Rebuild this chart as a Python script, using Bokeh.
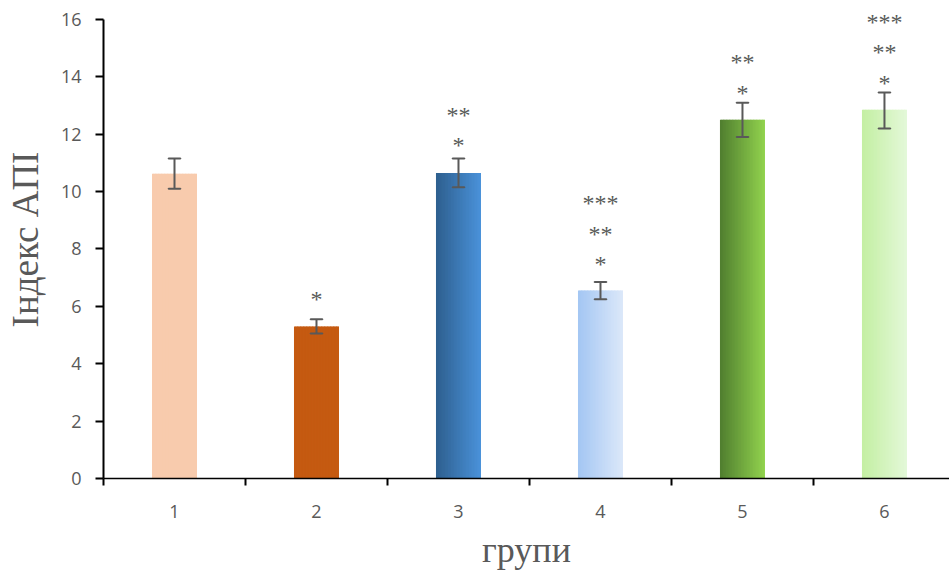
import numpy as np
from bokeh.plotting import figure
from bokeh.models import FixedTicker, ColumnDataSource, Range1d, LabelSet
from bokeh.embed import file_html
from bokeh.resources import INLINE

groups = ["1", "2", "3", "4", "5", "6"]
means = [10.62, 5.30, 10.65, 6.55, 12.50, 12.85]
err_low = [10.10, 5.05, 10.15, 6.25, 11.90, 12.20]
err_high = [11.15, 5.55, 11.15, 6.85, 13.10, 13.45]
star_levels = [0, 1, 2, 3, 2, 3]
star_base = [0.0, 6.31, 11.68, 7.53, 13.52, 13.87]   # height of the first "*" label
color_left = ["#F8CBAD", "#C55A11", "#2E5F8E", "#A3C6F3", "#507E30", "#C3EFA2"]
color_right = ["#F8CBAD", "#C55A11", "#4A92DA", "#DCE8F9", "#92D34D", "#E4F8D9"]
y_ticks = [0, 2, 4, 6, 8, 10, 12, 14, 16]

BAR_W = 0.317
N_SLICES = 30

def hex2rgb(h):
    h = h.lstrip("#")
    return np.array([int(h[i:i + 2], 16) for i in (0, 2, 4)], dtype=float)

def rgb2hex(c):
    return "#%02x%02x%02x" % tuple(int(round(v)) for v in c)

p = figure(width=949, height=576, output_backend="svg", toolbar_location=None,
           x_range=Range1d(0.5, 6.458), y_range=Range1d(0, 16.66),
           min_border_left=103, min_border_right=0, min_border_top=0, min_border_bottom=98)
p.outline_line_color = None
p.xgrid.grid_line_color = None
p.ygrid.grid_line_color = None

# gradient bars built from overlapping slices
lefts, rights, tops, cols = [], [], [], []
for i, m in enumerate(means):
    cx = i + 1
    x0 = cx - BAR_W / 2
    dw = BAR_W / N_SLICES
    c0, c1 = hex2rgb(color_left[i]), hex2rgb(color_right[i])
    for k in range(N_SLICES):
        t = (k + 0.5) / N_SLICES
        lefts.append(x0 + k * dw)
        rights.append(min(x0 + (k + 1.6) * dw, x0 + BAR_W))
        tops.append(m)
        cols.append(rgb2hex(c0 + (c1 - c0) * t))
src = ColumnDataSource(dict(l=lefts, r=rights, top=tops, c=cols))
p.quad(left="l", right="r", top="top", bottom=0, fill_color="c", line_color=None, source=src)

# error bars
xpos = list(range(1, len(groups) + 1))
esrc = ColumnDataSource(dict(x=xpos, lo=err_low, hi=err_high))
p.segment(x0="x", y0="lo", x1="x", y1="hi", line_color="#595959", line_width=2, source=esrc)
p.rect(x="x", y="lo", width=12, height=0.001, width_units="screen", height_units="screen",
       line_color="#595959", line_width=2, fill_color=None, source=esrc)
p.rect(x="x", y="hi", width=12, height=0.001, width_units="screen", height_units="screen",
       line_color="#595959", line_width=2, fill_color=None, source=esrc)

# significance stars
sx, sy, st, so = [], [], [], []
for i, lvl in enumerate(star_levels):
    for k in range(1, lvl + 1):
        sx.append(i + 1)
        sy.append(star_base[i])
        st.append("*" * k)
        so.append(-2 + 30.5 * (k - 1))
ssrc = ColumnDataSource(dict(x=sx, y=sy, t=st, o=so))
stars = LabelSet(x="x", y="y", text="t", y_offset="o", source=ssrc, text_align="center",
                 text_baseline="middle", text_font="DejaVu Sans", text_font_size="24px",
                 text_color="#595959")
p.add_layout(stars)

# axes
p.xaxis.ticker = FixedTicker(ticks=xpos, minor_ticks=[0.5 + i for i in range(7)])
p.xaxis.major_label_overrides = {i + 1: g for i, g in enumerate(groups)}
p.xaxis.major_tick_out = 0
p.xaxis.major_tick_in = 0
p.xaxis.minor_tick_out = 7
p.xaxis.minor_tick_in = 0
p.xaxis.minor_tick_line_color = "black"
p.xaxis.minor_tick_line_width = 2
p.xaxis.axis_line_color = "black"
p.xaxis.axis_line_width = 1.5
p.xaxis.major_label_standoff = 19
p.xaxis.major_label_text_font = "Open Sans"
p.xaxis.major_label_text_font_size = "18px"
p.xaxis.major_label_text_color = "#595959"
p.xaxis.axis_label = "групи"
p.xaxis.axis_label_text_font = "Liberation Serif"
p.xaxis.axis_label_text_font_style = "normal"
p.xaxis.axis_label_text_font_size = "36px"
p.xaxis.axis_label_text_color = "#595959"
p.xaxis.axis_label_standoff = 9

p.yaxis.ticker = FixedTicker(ticks=y_ticks)
p.yaxis.bounds = (0, 16)
p.yaxis.minor_tick_line_color = None
p.yaxis.major_tick_out = 8
p.yaxis.major_tick_in = 0
p.yaxis.major_tick_line_color = "black"
p.yaxis.major_tick_line_width = 2
p.yaxis.axis_line_color = "black"
p.yaxis.axis_line_width = 2
p.yaxis.major_label_standoff = 14
p.yaxis.major_label_text_font = "Open Sans"
p.yaxis.major_label_text_font_size = "18px"
p.yaxis.major_label_text_color = "#595959"
p.yaxis.axis_label = "Індекс АПІ"
p.yaxis.axis_label_text_font = "Liberation Serif"
p.yaxis.axis_label_text_font_style = "normal"
p.yaxis.axis_label_text_font_size = "37px"
p.yaxis.axis_label_text_color = "#595959"
p.yaxis.axis_label_standoff = 12

open("out.html", "w").write(file_html(p, INLINE))
